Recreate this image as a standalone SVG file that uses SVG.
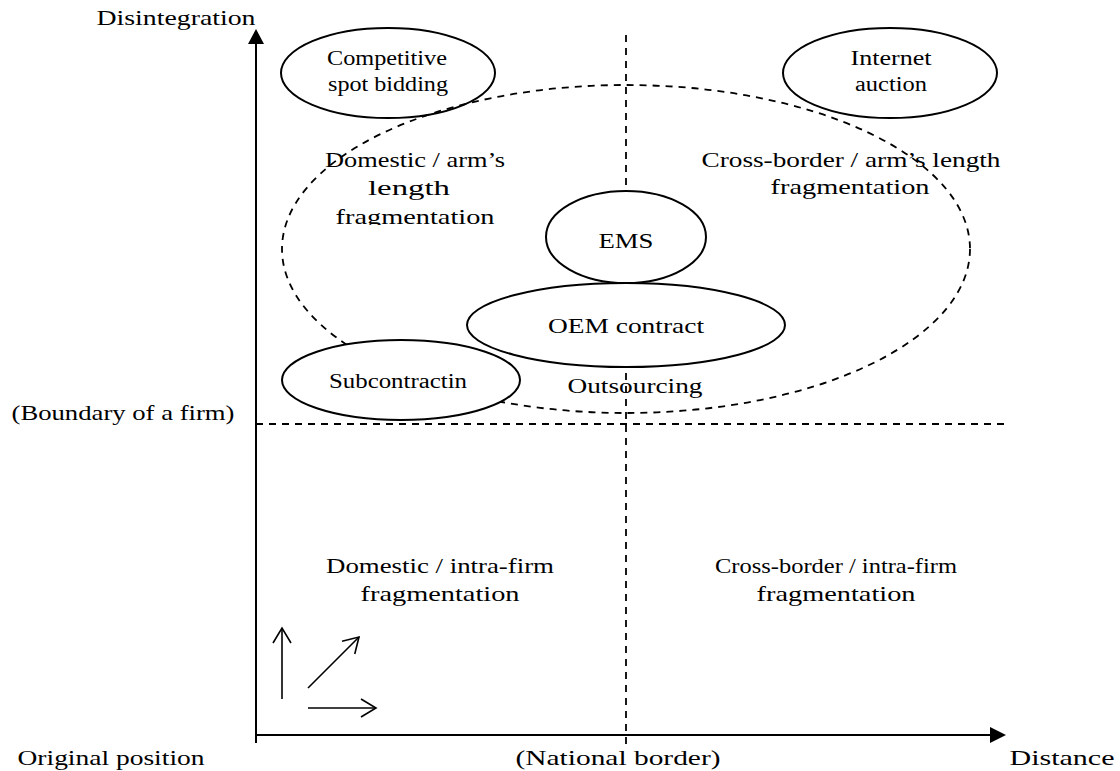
<svg xmlns="http://www.w3.org/2000/svg" width="1120" height="771" viewBox="0 0 1120 771">
<style>
text{font-family:"Liberation Serif","Times New Roman",serif;fill:#000;text-anchor:middle}
.l{font-size:22px}
.s{font-size:20px}
.ax{stroke:#000;stroke-width:2;fill:none}
.dash{stroke:#000;stroke-width:1.8;fill:none;stroke-dasharray:7 6}
.node{stroke:#000;stroke-width:2}
.thin{stroke:#000;stroke-width:1.6;fill:none}
</style>
<defs>
<marker id="open" markerUnits="userSpaceOnUse" markerWidth="20" markerHeight="20" refX="16" refY="10" orient="auto">
<path d="M1,1 L16,10 L1,19" fill="none" stroke="#000" stroke-width="1.6"/>
</marker>
<clipPath id="clipfrag"><rect x="300" y="150" width="240" height="75"/></clipPath>
</defs>
<rect width="1120" height="771" fill="#fff"/>
<g id="connectors">
<path class="ax" d="M256,743 V43"/>
<path d="M256,29 L248,44 L264,44 Z" fill="#000"/>
<path class="ax" d="M256,735 H991"/>
<path d="M1006,735 L990,727 L990,743 Z" fill="#000"/>
<path class="dash" d="M626,35 V748"/>
<path class="dash" d="M256,424 H1005"/>
<ellipse class="dash" cx="626" cy="249" rx="344" ry="164"/>
<path class="thin" d="M282,699 V628" marker-end="url(#open)"/>
<path class="thin" d="M308,688 L359,637" marker-end="url(#open)"/>
<path class="thin" d="M308,708 H376" marker-end="url(#open)"/>
</g>
<g id="axis-labels">
<text class="l" x="176" y="25" textLength="159" lengthAdjust="spacingAndGlyphs">Disintegration</text>
<text class="l" x="123" y="420" textLength="223" lengthAdjust="spacingAndGlyphs">(Boundary of a firm)</text>
<text class="l" x="111" y="765" textLength="187" lengthAdjust="spacingAndGlyphs">Original position</text>
<text class="l" x="618" y="765" textLength="205" lengthAdjust="spacingAndGlyphs">(National border)</text>
<text class="l" x="1062" y="765" textLength="105" lengthAdjust="spacingAndGlyphs">Distance</text>
</g>
<g id="quadrant-labels">
<g clip-path="url(#clipfrag)">
<text class="l" x="415" y="167" textLength="180" lengthAdjust="spacingAndGlyphs">Domestic / arm’s</text>
<text class="l" x="409" y="195" textLength="82" lengthAdjust="spacingAndGlyphs">length</text>
<text class="l" x="415" y="224" textLength="159" lengthAdjust="spacingAndGlyphs">fragmentation</text>
</g>
<text class="l" x="851" y="167" textLength="299" lengthAdjust="spacingAndGlyphs">Cross-border / arm’s length</text>
<text class="l" x="850" y="194" textLength="159" lengthAdjust="spacingAndGlyphs">fragmentation</text>
<text class="l" x="440" y="573" textLength="228" lengthAdjust="spacingAndGlyphs">Domestic / intra-firm</text>
<text class="l" x="440" y="601" textLength="159" lengthAdjust="spacingAndGlyphs">fragmentation</text>
<text class="l" x="836" y="573" textLength="242" lengthAdjust="spacingAndGlyphs">Cross-border / intra-firm</text>
<text class="l" x="836" y="601" textLength="159" lengthAdjust="spacingAndGlyphs">fragmentation</text>
<text class="l" x="635" y="393" textLength="135" lengthAdjust="spacingAndGlyphs">Outsourcing</text>
</g>
<g id="competitive">
<ellipse class="node" cx="388" cy="73" rx="107" ry="45" fill="none"/>
<text class="s" x="387" y="65" textLength="120" lengthAdjust="spacingAndGlyphs">Competitive</text>
<text class="s" x="388" y="91" textLength="120" lengthAdjust="spacingAndGlyphs">spot bidding</text>
</g>
<g id="internet">
<ellipse class="node" cx="890" cy="73" rx="107" ry="45" fill="none"/>
<text class="s" x="891" y="65" textLength="81" lengthAdjust="spacingAndGlyphs">Internet</text>
<text class="s" x="891" y="91" textLength="72" lengthAdjust="spacingAndGlyphs">auction</text>
</g>
<g id="ems">
<ellipse class="node" cx="626" cy="237" rx="80" ry="46" fill="#fff"/>
<text class="l" x="626" y="248" textLength="55" lengthAdjust="spacingAndGlyphs">EMS</text>
</g>
<g id="oem">
<ellipse class="node" cx="626" cy="325" rx="159" ry="42" fill="#fff"/>
<text class="l" x="626" y="333" textLength="156" lengthAdjust="spacingAndGlyphs">OEM contract</text>
</g>
<g id="subcontracting">
<ellipse class="node" cx="401" cy="380" rx="119" ry="40" fill="#fff"/>
<text class="s" x="398" y="388" textLength="138" lengthAdjust="spacingAndGlyphs">Subcontractin</text>
</g>
</svg>
